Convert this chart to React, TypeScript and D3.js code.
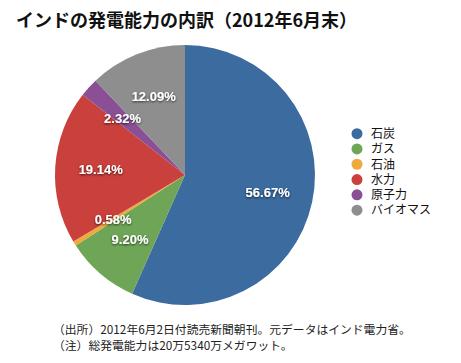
import * as d3 from "d3";

const TITLE = "インドの発電能力の内訳（2012年6月末）";
const CATEGORIES = ["石炭", "ガス", "石油", "水力", "原子力", "バイオマス"];
const SHARES = [56.67, 9.2, 0.58, 19.14, 2.32, 12.09];
const COLORS = ["#3b6b9f", "#6ea556", "#eeaa3a", "#c9403c", "#8a4f95", "#8e8e8e"];
const NOTES = [
  "（出所）2012年6月2日付読売新聞朝刊。元データはインド電力省。",
  "（注）総発電能力は20万5340万メガワット。",
];

const W = 461;
const H = 363;
const FONT = "'Noto Sans CJK JP', 'Noto Sans', sans-serif";

interface Slice {
  name: string;
  value: number;
  color: string;
}

const data: Slice[] = CATEGORIES.map((name, i) => ({
  name,
  value: SHARES[i],
  color: COLORS[i],
}));

const App = () => {
  const cx = 185;
  const cy = 175;
  const r = 130;

  const pie = d3
    .pie<Slice>()
    .value((d) => d.value)
    .sort(null);
  const arcs = pie(data);

  const arc = d3.arc<d3.PieArcDatum<Slice>>().innerRadius(0).outerRadius(r);
  const labelArc = d3
    .arc<d3.PieArcDatum<Slice>>()
    .innerRadius(r * 0.65)
    .outerRadius(r * 0.65);

  const legendY = d3
    .scaleBand<string>()
    .domain(CATEGORIES)
    .range([126, 126 + 15.3 * CATEGORIES.length]);

  return (
    <svg
      width={W}
      height={H}
      style={{ position: "absolute", left: 0, top: 0, background: "#fff" }}
      fontFamily={FONT}
    >
      <defs>
        <filter id="shadow" x="-20%" y="-40%" width="140%" height="180%">
          <feDropShadow dx="0" dy="1" stdDeviation="0.8" floodColor="#000" floodOpacity="0.7" />
        </filter>
      </defs>

      <text x={16} y={27} fontSize={18} fontWeight="bold" fill="#111">
        {TITLE}
      </text>

      <g transform={`translate(${cx},${cy})`}>
        {arcs.map((a) => (
          <path key={a.data.name} d={arc(a) ?? ""} fill={a.data.color} />
        ))}
        {arcs.map((a) => {
          const [x, y] = labelArc.centroid(a);
          return (
            <text
              key={a.data.name}
              x={x}
              y={y}
              textAnchor="middle"
              dominantBaseline="central"
              fontSize={13}
              fontWeight="bold"
              fill="#fff"
              filter="url(#shadow)"
              fontFamily="'Liberation Sans', Arial, sans-serif"
            >
              {a.data.value.toFixed(2)}%
            </text>
          );
        })}
      </g>

      <g>
        {data.map((d) => {
          const y = (legendY(d.name) ?? 0) + legendY.bandwidth() / 2;
          return (
            <g key={d.name}>
              <circle cx={357} cy={y} r={5.5} fill={d.color} />
              <text x={371} y={y + 4.3} fontSize={12} fill="#111">
                {d.name}
              </text>
            </g>
          );
        })}
      </g>

      {NOTES.map((n, i) => (
        <text key={i} x={53} y={334 + i * 15.5} fontSize={11.8} fill="#222">
          {n}
        </text>
      ))}
    </svg>
  );
};

export default App;
